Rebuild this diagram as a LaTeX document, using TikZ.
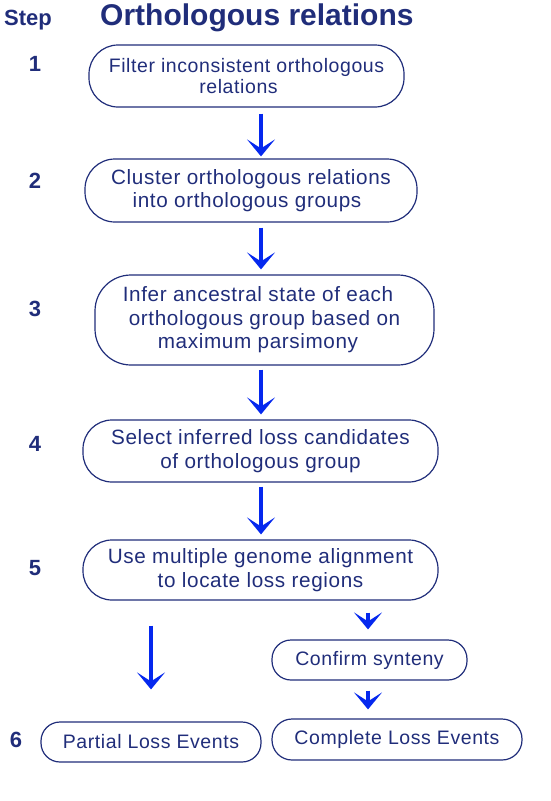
\documentclass[tikz,border=0pt]{standalone}
\usepackage{fontspec}
\setmainfont{Liberation Sans}
\usetikzlibrary{arrows.meta}
\definecolor{navy}{RGB}{32,45,122}
\definecolor{arrblue}{RGB}{5,40,238}
\newfontfamily\boxfont[LetterSpace=3]{Liberation Sans}
\tikzset{
  box/.style={draw=navy, line width=1.2pt, text=navy, align=center, inner sep=0pt,
     font=\boxfont\fontsize{19.5}{21}\selectfont},
  bigtext/.style={font=\boxfont\fontsize{20.7}{23.5}\selectfont},
  stepno/.style={text=navy, font=\bfseries\fontsize{22}{24}\selectfont},
  arr/.style={draw=arrblue, line width=4pt, -{Stealth[length=17pt,width=28pt,inset=9pt]}},
}
\begin{document}
\begin{tikzpicture}[x=1pt,y=-1pt]
\useasboundingbox (0,0) rectangle (551,801);
\node[text=navy, anchor=base west, inner sep=0pt, font=\bfseries\fontsize{22}{26}\selectfont] (steph) at (4,25) {Step};
\node[text=navy, anchor=base west, inner sep=0pt, font=\bfseries\fontsize{30}{34}\selectfont] (title) at (100,25) {Orthologous relations};
\node[stepno] (n1) at (35,64) {1};
\node[stepno] (n2) at (35,181) {2};
\node[stepno] (n3) at (35,309) {3};
\node[stepno] (n4) at (35,444) {4};
\node[stepno] (n5) at (35,568) {5};
\node[stepno] (n6) at (16,739.5) {6};

\coordinate (axis) at (261,0);
\coordinate (raxis) at (368,0);

\node[box, rounded corners=29pt, minimum width=315pt, minimum height=62pt] (b1) at (246.5,76) {Filter inconsistent orthologous\\relations\hspace*{16pt}};
\node[box, bigtext, rounded corners=30pt, minimum width=332pt, minimum height=63pt] (b2) at (251,190.5) {Cluster orthologous relations\\into orthologous groups\hspace*{8pt}};
\node[box, bigtext, rounded corners=36pt, minimum width=339pt, minimum height=90pt] (b3) at (264.5,320) {Infer ancestral state of each\hspace*{13pt}\\orthologous group based on\hspace*{13pt}\\maximum parsimony\hspace*{13pt}};
\node[box, bigtext, rounded corners=29pt, minimum width=355pt, minimum height=62pt] (b4) at (260.5,451) {Select inferred loss candidates\\of orthologous group};
\node[box, bigtext, rounded corners=29pt, minimum width=355pt, minimum height=60pt] (b5) at (260.5,570) {Use multiple genome alignment\\to locate loss regions};
\node[box, rounded corners=19pt, minimum width=195pt, minimum height=40pt] (conf) at (369.5,660) {Confirm synteny};
\node[box, rounded corners=19pt, minimum width=220pt, minimum height=40pt] (part) at (151,742) {Partial Loss Events};
\node[box, rounded corners=20pt, minimum width=250pt, minimum height=41pt] (comp) at (397,739.5) {Complete Loss Events};

\draw[arr, shorten <=6pt, shorten >=2pt] (b1.south -| axis) -- (b2.north -| axis);
\draw[arr, shorten <=5pt, shorten >=5pt] (b2.south -| axis) -- (b3.north -| axis);
\draw[arr, shorten <=4pt, shorten >=5pt] (b3.south -| axis) -- (b4.north -| axis);
\draw[arr, shorten <=4pt, shorten >=5pt] (b4.south -| axis) -- (b5.north -| axis);
\draw[arr, shorten <=25pt, shorten >=32pt] (b5.south -| part.north) -- (part.north);
\draw[arr, shorten <=12pt, shorten >=10pt] (b5.south -| raxis) -- (conf.north -| raxis);
\draw[arr, shorten <=10pt, shorten >=9pt] (conf.south -| raxis) -- (comp.north -| raxis);
\end{tikzpicture}
\end{document}
